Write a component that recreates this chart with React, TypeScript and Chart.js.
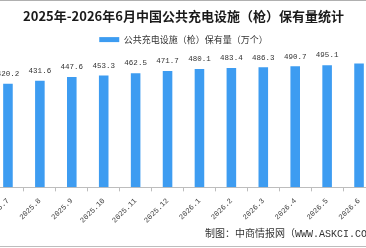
import React, { useEffect, useRef } from "react";
import { Chart, registerables } from "chart.js";

Chart.register(...registerables);

// Monthly stock of public charging points (guns), in 10k units
const months = [
  "2025.7", "2025.8", "2025.9", "2025.10", "2025.11", "2025.12",
  "2026.1", "2026.2", "2026.3", "2026.4", "2026.5", "2026.6",
];
const holdings = [420.2, 431.6, 447.6, 453.3, 462.5, 471.7, 480.1, 483.4, 486.3, 490.7, 495.1, 502.0];
// The newest month carries no value label
const labelledBars = 11;

const titleText = "2025年-2026年6月中国公共充电设施（枪）保有量统计";
const seriesName = "公共充电设施（枪）保有量（万个）";
const sourceText = "制图：中商情报网（WWW.ASKCI.COM）";

const BAR_BLUE = "#3d9cf1";
const TEXT_DARK = "#333333";
const MONO = "'Liberation Mono', 'DejaVu Sans Mono', monospace";
const CJK = "'Noto Sans CJK SC', 'Noto Sans', sans-serif";

const valueLabelPlugin = {
  id: "valueLabels",
  afterDatasetsDraw(chart: any) {
    const { ctx } = chart;
    const meta = chart.getDatasetMeta(0);
    ctx.save();
    ctx.font = `7.5px ${MONO}`;
    ctx.fillStyle = TEXT_DARK;
    ctx.textAlign = "center";
    ctx.textBaseline = "bottom";
    meta.data.forEach((bar: any, i: number) => {
      if (i >= labelledBars) return;
      ctx.fillText(holdings[i].toFixed(1), bar.x, bar.y - 6);
    });
    ctx.restore();
  },
};

// Source credit in the bottom-right corner
const sourcePlugin = {
  id: "sourceNote",
  afterDraw(chart: any) {
    const { ctx } = chart;
    ctx.save();
    ctx.font = `10px ${MONO}, ${CJK}`;
    ctx.fillStyle = TEXT_DARK;
    ctx.textAlign = "right";
    ctx.textBaseline = "middle";
    ctx.fillText(sourceText, chart.width, chart.height - 14);
    ctx.restore();
  },
};

export default function App() {
  const canvasRef = useRef<HTMLCanvasElement | null>(null);

  useEffect(() => {
    const canvas = canvasRef.current;
    if (!canvas) return;
    const chart = new Chart(canvas, {
      type: "bar",
      data: {
        labels: months,
        datasets: [
          {
            label: seriesName,
            data: holdings,
            backgroundColor: BAR_BLUE,
            borderWidth: 0,
            categoryPercentage: 1,
            barPercentage: 0.3,
          },
        ],
      },
      options: {
        responsive: false,
        animation: false,
        events: [],
        layout: { padding: { left: 9, right: 8, top: 0, bottom: 18 } },
        plugins: {
          title: {
            display: true,
            text: titleText,
            color: "#1a1a1a",
            font: { family: CJK, size: 13, weight: "bold", lineHeight: 1.2 },
            padding: { top: 8, bottom: 2.5 },
          },
          legend: {
            display: true,
            labels: {
              boxWidth: 20,
              boxHeight: 5,
              padding: 9,
              color: TEXT_DARK,
              font: { family: CJK, size: 9 },
            },
          },
          tooltip: { enabled: false },
        },
        scales: {
          x: {
            grid: {
              display: true,
              drawOnChartArea: false,
              drawTicks: true,
              tickLength: 4,
              color: "#bdbdbd",
              offset: true,
            },
            border: { display: true, color: "#bdbdbd", width: 1 },
            ticks: {
              autoSkip: false,
              minRotation: 45,
              maxRotation: 45,
              padding: 5,
              color: "#444444",
              font: { family: MONO, size: 7.5 },
            },
          },
          y: { display: false, min: 0, max: 540 },
        },
      },
      plugins: [valueLabelPlugin, sourcePlugin],
    });
    return () => chart.destroy();
  }, []);

  return (
    <div
      style={{
        position: "fixed",
        left: 0,
        top: 0,
        width: 366,
        height: 248,
        overflow: "hidden",
        background: "#ffffff",
      }}
    >
      <canvas
        ref={canvasRef}
        width={400}
        height={248}
        style={{ position: "absolute", left: -17, top: 0, width: 400, height: 248 }}
      />
      <div style={{ position: "absolute", left: 0, top: 0, width: 366, height: 1, background: "#b0b0b0" }} />
      <div style={{ position: "absolute", left: 0, top: 246, width: 366, height: 1, background: "#bdbdbd" }} />
    </div>
  );
}
